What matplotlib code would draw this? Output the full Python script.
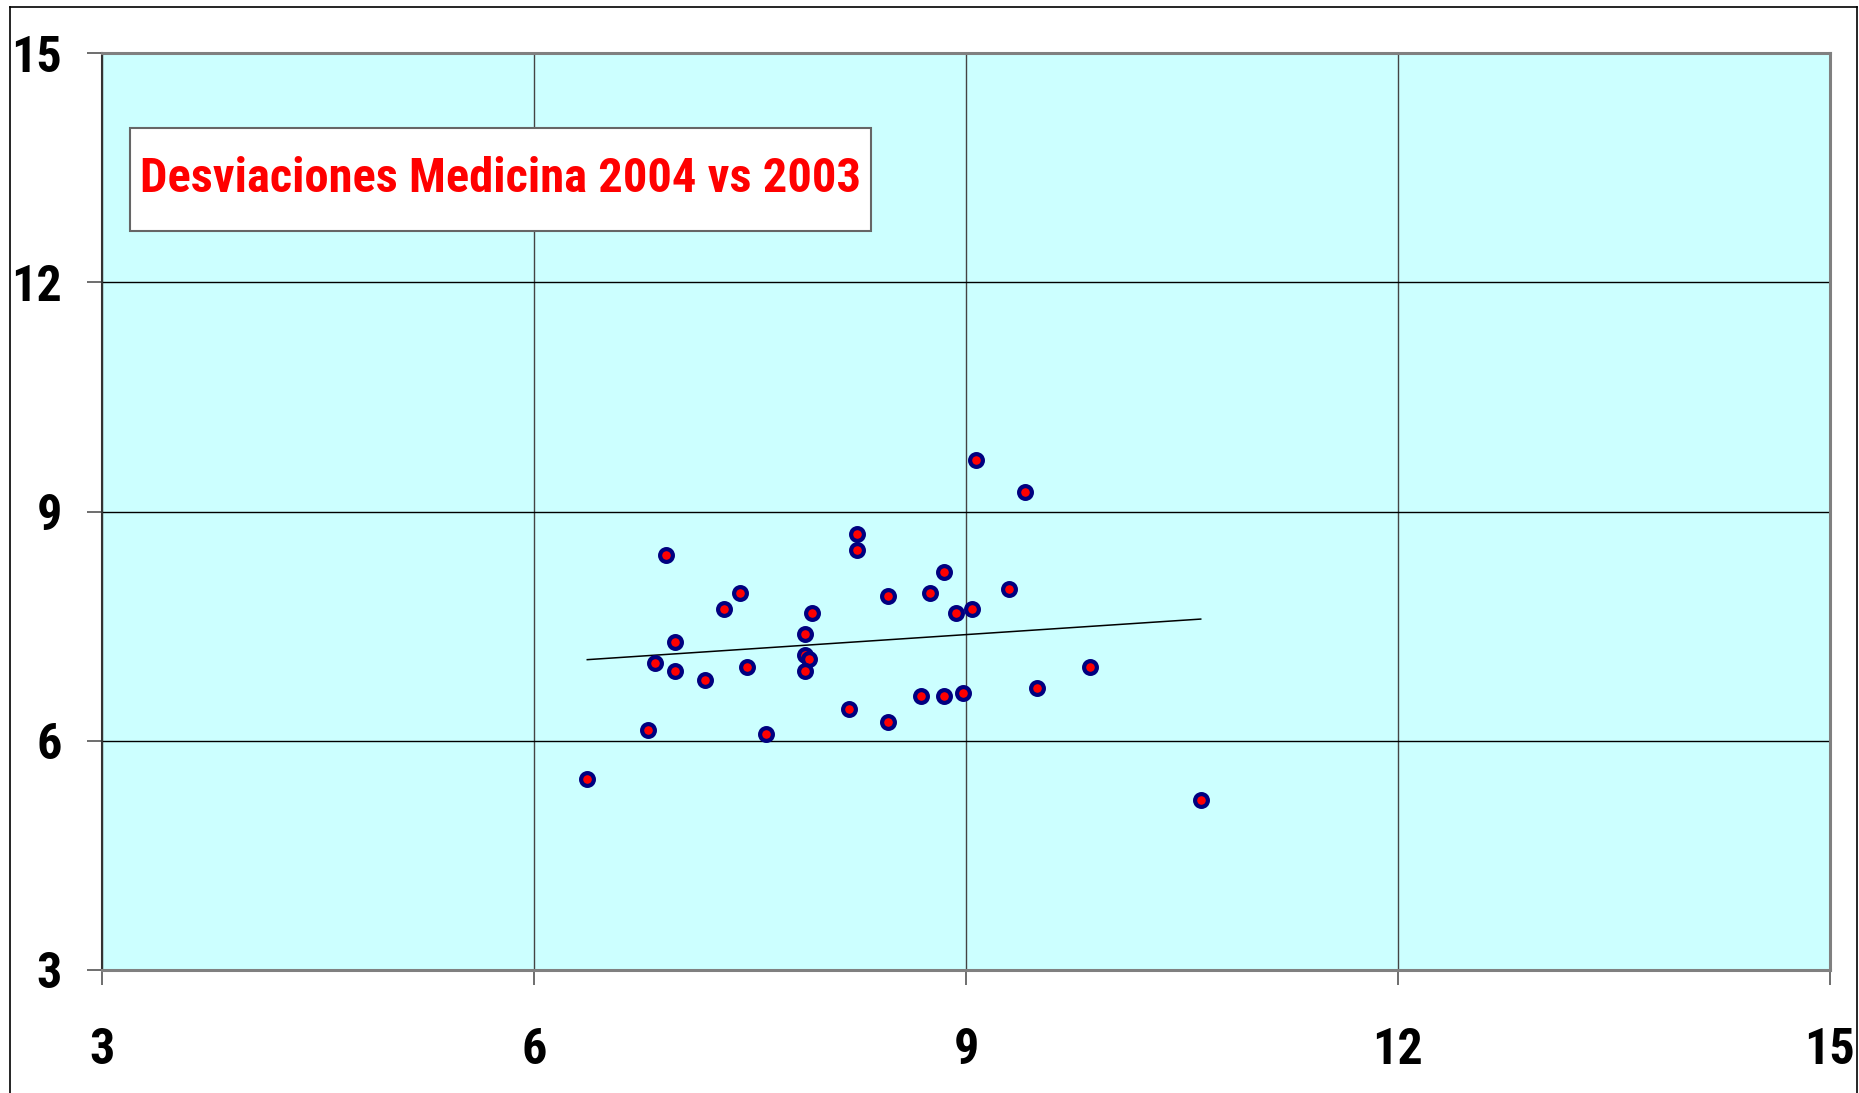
import numpy as np
import matplotlib.pyplot as plt
from matplotlib.patches import Rectangle
from matplotlib.lines import Line2D

# Desviaciones 2003 (x) vs 2004 (y)
x_2003 = [9.07, 9.41, 8.24, 8.24, 6.92, 8.85, 7.43, 9.30, 8.46, 8.75,
          7.32, 8.93, 9.04, 7.93, 7.88, 6.98, 7.88, 7.91, 6.84, 6.98,
          7.88, 7.48, 7.19, 9.49, 8.69, 8.85, 8.98, 8.19, 8.46, 6.79,
          7.61, 6.37, 9.86, 10.63]
y_2004 = [9.68, 9.25, 8.70, 8.49, 8.43, 8.21, 7.94, 7.99, 7.89, 7.94,
          7.72, 7.67, 7.72, 7.67, 7.40, 7.29, 7.12, 7.07, 7.02, 6.91,
          6.91, 6.96, 6.80, 6.69, 6.58, 6.58, 6.63, 6.42, 6.25, 6.14,
          6.09, 5.50, 6.96, 5.22]

ticks = [3, 6, 9, 12, 15]
title = "Desviaciones Medicina 2004 vs 2003"
fam = ["Roboto Condensed", "PT Sans Narrow", "Archivo Narrow", "DejaVu Sans"]


def main():
    fig = plt.figure(figsize=(18.59, 10.93), dpi=100)
    ax = fig.add_axes([102 / 1859, 1 - 970 / 1093, 1728 / 1859, 917 / 1093])
    ax.set_facecolor("#CCFFFF")
    ax.set_xlim(3, 15)
    ax.set_ylim(3, 15)
    ax.set_xticks(ticks)
    ax.set_yticks(ticks)
    ax.set_xticklabels([str(t) for t in ticks], family=fam, weight="bold", fontsize=36)
    ax.set_yticklabels([str(t) for t in ticks], family=fam, weight="bold", fontsize=36)
    ax.tick_params(axis="x", direction="out", length=11, width=1.2, color="#555555", pad=30)
    ax.tick_params(axis="y", direction="out", length=11, width=1.2, color="#555555", pad=18)

    ax.yaxis.grid(True, color="black", lw=1.0)
    ax.xaxis.grid(True, color="#444444", lw=1.0)
    ax.set_axisbelow(True)

    for side in ["top", "right", "bottom"]:
        ax.spines[side].set_color("#808080")
        ax.spines[side].set_linewidth(2.2)
    ax.spines["left"].set_color("#333333")
    ax.spines["left"].set_linewidth(1.5)

    # linear trend line over the data range
    slope, icpt = np.polyfit(x_2003, y_2004, 1)
    xs = np.array([min(x_2003), max(x_2003)])
    ax.plot(xs, slope * xs + icpt, color="black", lw=1.1, zorder=3)

    ax.scatter(x_2003, y_2004, s=9.2 ** 2, facecolor="red", edgecolor="#000080",
               linewidth=3.0, zorder=4)

    # title box
    bx0, by0 = (130 - 102) / 1728, (970 - 231) / 917
    bw, bh = (871 - 130) / 1728, (231 - 128) / 917
    ax.add_patch(Rectangle((bx0, by0), bw, bh, transform=ax.transAxes,
                           facecolor="white", edgecolor="#666666", lw=1.5, zorder=5))
    ax.text(bx0 + bw / 2, by0 + bh / 2, title, transform=ax.transAxes,
            ha="center", va="center", color="red", family=fam, weight="bold",
            fontsize=35, zorder=6)

    # outer chart frame
    for xy in [([10, 10], [0, 1086]), ([10, 1857], [1086, 1086]), ([1857, 1857], [1086, 0])]:
        fig.add_artist(Line2D(np.array(xy[0]) / 1859, np.array(xy[1]) / 1093,
                              color="black", lw=1.2))

    fig.savefig("out.png", dpi=100)


if __name__ == "__main__":
    main()
